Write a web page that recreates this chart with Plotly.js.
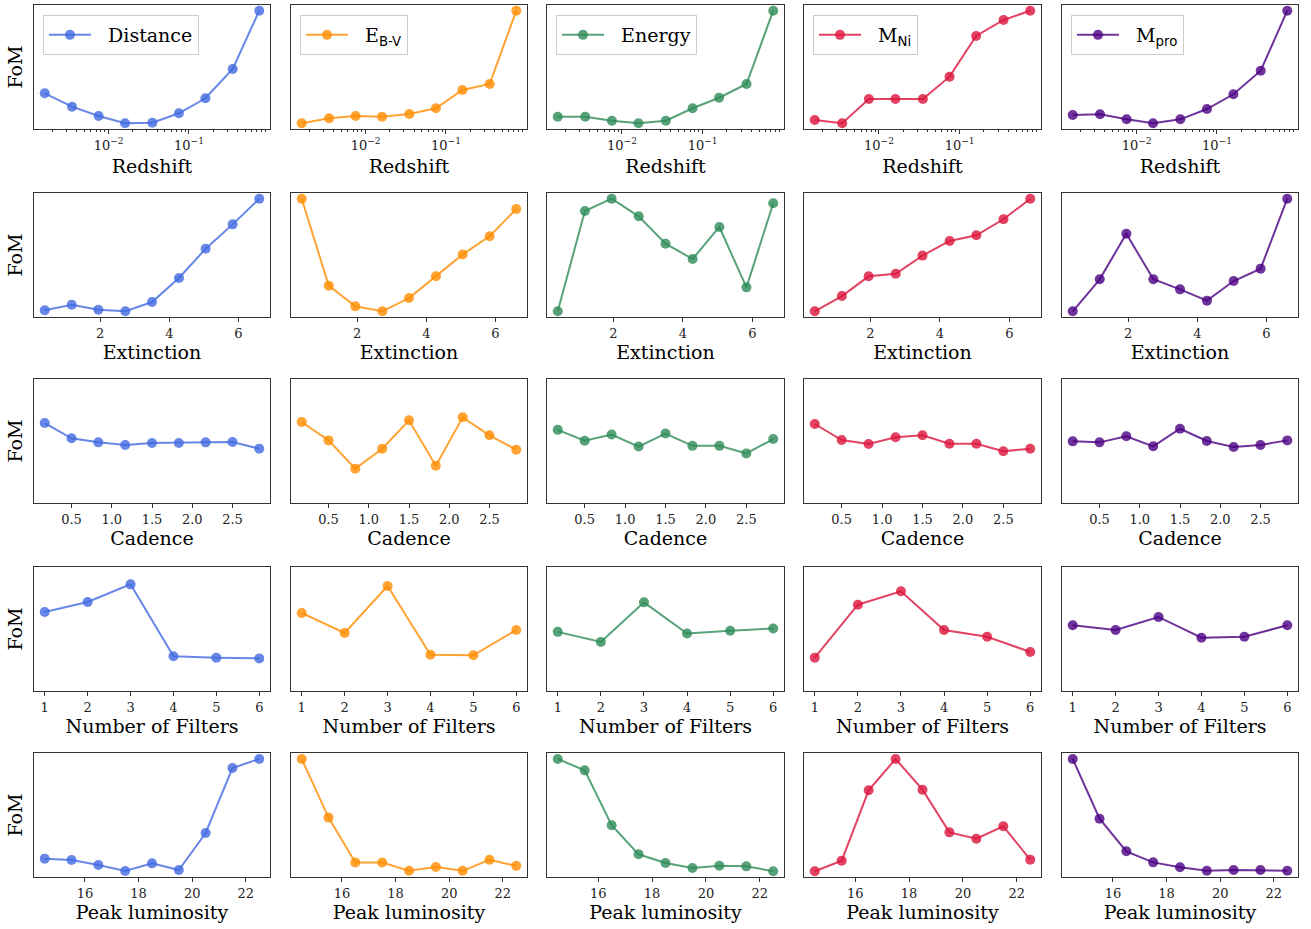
<!DOCTYPE html>
<html>
<head>
<meta charset="utf-8">
<script src="https://cdn.plot.ly/plotly-3.0.1.min.js"></script>
<style>
html,body{margin:0;padding:0;background:#ffffff;}
#chart{width:1311px;height:929px;}
</style>
</head>
<body>
<div id="chart"></div>
<script>
// ---------- data ----------
const seriesNames = [
  'Distance',
  'E<sub><span style="font-family:\'DejaVu Sans\'">B-V</span></sub>',
  'Energy',
  'M<sub><span style="font-family:\'DejaVu Sans\'">Ni</span></sub>',
  'M<sub><span style="font-family:\'DejaVu Sans\'">pro</span></sub>'
];
const seriesColors = [
  'rgba(65,105,225,0.8)',
  'rgba(255,140,0,0.8)',
  'rgba(46,139,87,0.8)',
  'rgba(220,20,60,0.8)',
  'rgba(75,0,130,0.8)'
];
const rowTitles = ['Redshift', 'Extinction', 'Cadence', 'Number of Filters', 'Peak luminosity'];

// x values per row
const redshift   = [0.0016, 0.0035, 0.0075, 0.016, 0.035, 0.075, 0.16, 0.35, 0.75];
const extinction = [0.4, 1.18, 1.95, 2.73, 3.5, 4.28, 5.05, 5.83, 6.6];
const cadence    = [0.167, 0.5, 0.833, 1.167, 1.5, 1.833, 2.167, 2.5, 2.833];
const nFilters   = [1, 2, 3, 4, 5, 6];
const peakLum    = [14.5, 15.5, 16.5, 17.5, 18.5, 19.5, 20.5, 21.5, 22.5];

// FoM (relative units) — one list per series: Distance, E_B-V, Energy, M_Ni, M_pro
const fomRedshift = [
  [0.288, 0.180, 0.105, 0.046, 0.051, 0.127, 0.248, 0.484, 0.954],
  [0.046, 0.086, 0.105, 0.099, 0.121, 0.167, 0.315, 0.363, 0.954],
  [0.099, 0.099, 0.067, 0.046, 0.067, 0.167, 0.252, 0.363, 0.954],
  [0.073, 0.046, 0.242, 0.242, 0.242, 0.422, 0.750, 0.879, 0.954],
  [0.113, 0.119, 0.078, 0.046, 0.078, 0.161, 0.280, 0.470, 0.954]
];
const fomExtinction = [
  [0.054, 0.099, 0.059, 0.046, 0.121, 0.315, 0.551, 0.747, 0.954],
  [0.954, 0.253, 0.086, 0.046, 0.153, 0.328, 0.505, 0.651, 0.871],
  [0.046, 0.855, 0.954, 0.812, 0.591, 0.468, 0.726, 0.239, 0.917],
  [0.046, 0.169, 0.328, 0.349, 0.495, 0.613, 0.659, 0.788, 0.954],
  [0.046, 0.304, 0.672, 0.304, 0.223, 0.132, 0.290, 0.390, 0.954]
];
const fomCadence = [
  [0.645, 0.522, 0.489, 0.468, 0.484, 0.484, 0.489, 0.492, 0.438],
  [0.653, 0.505, 0.277, 0.438, 0.667, 0.301, 0.691, 0.546, 0.430],
  [0.590, 0.502, 0.552, 0.455, 0.560, 0.461, 0.461, 0.400, 0.516],
  [0.637, 0.508, 0.476, 0.530, 0.546, 0.478, 0.478, 0.417, 0.438],
  [0.497, 0.489, 0.538, 0.457, 0.599, 0.500, 0.452, 0.468, 0.505]
];
const fomFilters = [
  [0.637, 0.718, 0.860, 0.280, 0.269, 0.263],
  [0.629, 0.468, 0.847, 0.293, 0.288, 0.492],
  [0.477, 0.396, 0.715, 0.464, 0.486, 0.504],
  [0.269, 0.696, 0.804, 0.492, 0.438, 0.315],
  [0.530, 0.492, 0.597, 0.430, 0.438, 0.530]
];
const fomPeakLum = [
  [0.148, 0.137, 0.097, 0.048, 0.110, 0.056, 0.355, 0.879, 0.952],
  [0.952, 0.479, 0.117, 0.117, 0.050, 0.080, 0.050, 0.139, 0.090],
  [0.952, 0.860, 0.417, 0.183, 0.113, 0.073, 0.091, 0.086, 0.046],
  [0.046, 0.132, 0.699, 0.952, 0.704, 0.360, 0.309, 0.409, 0.140],
  [0.952, 0.470, 0.207, 0.118, 0.078, 0.051, 0.056, 0.056, 0.051]
];

// tick labels
const logTickVals = [0.01, 0.1];
const logTickText = ['10<sup>\u22122</sup>', '10<sup>\u22121</sup>'];
const logMinorVals = [0.002,0.003,0.004,0.005,0.006,0.007,0.008,0.009,
                      0.02,0.03,0.04,0.05,0.06,0.07,0.08,0.09,
                      0.2,0.3,0.4,0.5,0.6,0.7,0.8,0.9];

// ---------- layout helpers ----------
const W = 1311, H = 929;
const colPx = [[34,270],[291,527],[547,784],[804,1041],[1062,1298]];
const rowPx = [[5,129],[193,317],[379,503],[567,691],[753,877]];
const rowX = [redshift, extinction, cadence, nFilters, peakLum];
const rowY = [fomRedshift, fomExtinction, fomCadence, fomFilters, fomPeakLum];

const FONT = 'DejaVu Serif';
const traces = [];
const layout = {
  width: W, height: H,
  margin: {l:0, r:0, t:0, b:0},
  paper_bgcolor: '#ffffff',
  plot_bgcolor: '#ffffff',
  font: {family: FONT, color: '#000000', size: 13},
  showlegend: true
};

function padRange(arr, isLog) {
  const v = isLog ? arr.map(Math.log10) : arr;
  const lo = Math.min(...v), hi = Math.max(...v);
  const p = 0.05 * (hi - lo);
  return [lo - p, hi + p];
}

for (let r = 0; r < 5; r++) {
  for (let c = 0; c < 5; c++) {
    const idx = r * 5 + c + 1;
    const xName = 'x' + (idx === 1 ? '' : idx);
    const yName = 'y' + (idx === 1 ? '' : idx);
    const xKey = 'xaxis' + (idx === 1 ? '' : idx);
    const yKey = 'yaxis' + (idx === 1 ? '' : idx);
    const legendId = 'legend' + (c === 0 ? '' : (c + 1));

    traces.push({
      type: 'scatter',
      mode: 'lines+markers',
      x: rowX[r],
      y: rowY[r][c],
      xaxis: xName, yaxis: yName,
      name: '\u00a0\u00a0' + seriesNames[c],
      legend: legendId,
      showlegend: r === 0,
      line: {color: seriesColors[c], width: 2},
      marker: {color: seriesColors[c], size: 10, line: {width: 0}},
      hoverinfo: 'x+y'
    });

    const isLog = (r === 0);
    const xa = {
      domain: [colPx[c][0] / W, colPx[c][1] / W],
      anchor: yName,
      range: padRange(rowX[r], isLog),
      showline: true, mirror: true, linecolor: '#333333', linewidth: 1,
      showgrid: false, zeroline: false,
      ticks: 'outside', ticklen: 4, tickwidth: 1, tickcolor: '#333333',
      tickfont: {family: FONT, size: 13, color: '#222222'},
      title: {text: rowTitles[r], font: {family: FONT, size: 19, color: '#000000'}, standoff: r === 0 ? 8 : 6},
      fixedrange: true
    };
    if (r === 0) {
      xa.type = 'log';
      xa.tickmode = 'array';
      xa.tickvals = logTickVals;
      xa.ticktext = logTickText;
      xa.minor = {ticks: 'outside', ticklen: 2, tickwidth: 1, tickcolor: '#333333', tickvals: logMinorVals, showgrid: false};
    } else if (r === 1) {
      xa.tick0 = 0; xa.dtick = 2;
    } else if (r === 2) {
      xa.tick0 = 0; xa.dtick = 0.5; xa.tickformat = '.1f';
    } else if (r === 3) {
      xa.tick0 = 0; xa.dtick = 1;
    } else {
      xa.tick0 = 0; xa.dtick = 2;
    }
    layout[xKey] = xa;

    const ya = {
      domain: [1 - rowPx[r][1] / H, 1 - rowPx[r][0] / H],
      anchor: xName,
      range: [0, 1],
      showline: true, mirror: true, linecolor: '#333333', linewidth: 1,
      showgrid: false, zeroline: false,
      showticklabels: false, ticks: '',
      fixedrange: true
    };
    if (c === 0) {
      ya.title = {text: 'FoM', font: {family: FONT, size: 19, color: '#000000'}, standoff: 5};
    }
    layout[yKey] = ya;
  }
}

// legends, one per column inside the top-row panels
for (let c = 0; c < 5; c++) {
  const key = 'legend' + (c === 0 ? '' : (c + 1));
  layout[key] = {
    x: (colPx[c][0] + 9) / W,
    y: 1 - 15 / H,
    xanchor: 'left', yanchor: 'top',
    bgcolor: 'rgba(255,255,255,0.8)',
    bordercolor: '#cccccc', borderwidth: 1,
    font: {family: FONT, size: 19, color: '#000000'},
    itemwidth: 42,
    tracegroupgap: 0
  };
}

Plotly.newPlot('chart', traces, layout, {displayModeBar: false, staticPlot: true});
</script>
</body>
</html>
